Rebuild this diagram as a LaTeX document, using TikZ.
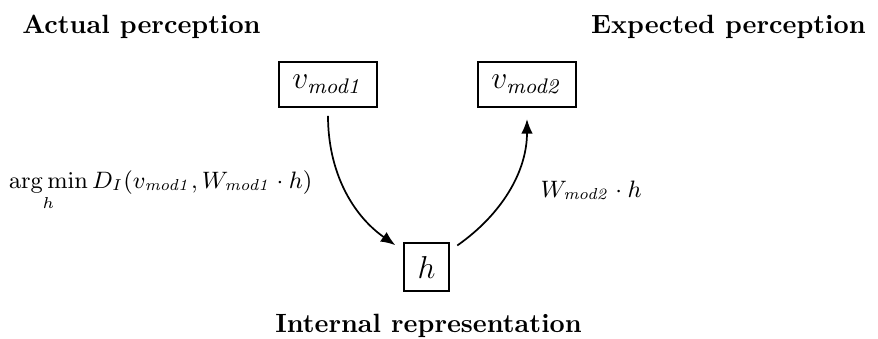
\documentclass[tikz,border=0pt]{standalone}
\usetikzlibrary{arrows.meta}
\begin{document}
\begin{tikzpicture}[x=0.3788pt, y=-0.3788pt,
  box/.style={draw, line width=0.8pt, inner sep=5pt, font=\large},
  title/.style={font=\bfseries},
  lbl/.style={font=\small, inner sep=0pt},
  conn/.style={-{Latex[length=5.5pt,width=4.4pt]}, line width=0.65pt}]
\useasboundingbox (0,0) rectangle (878,338);
\node[title, anchor=base west] (t1) at (13,33) {Actual perception};
\node[title, anchor=base east] (t2) at (875,33) {Expected perception};
\node[title, anchor=base] (t3) at (428.5,332) {Internal representation};
\node[box, minimum height=17pt] (v1) at (328,84.5) {$v_{\mathit{mod1}}$};
\node[box, minimum height=17pt] (v2) at (527,84.5) {$v_{\mathit{mod2}}$};
\node[box] (h) at (426.5,267) {$h$};
\draw[conn, shorten <=3pt, shorten >=3.7pt] (v1) to[out=-90, in=145] (h);
\draw[conn, shorten <=3.5pt, shorten >=4.2pt] (h) to[out=35, in=-90] (v2);
\node[lbl, anchor=base east] (l1) at (313,188) {$\mathop{\mathrm{arg\,min}}\limits_h D_I(v_{\mathit{mod1}}, W_{\mathit{mod1}}\cdot h)$};
\node[lbl, anchor=base west] (l2) at (540,197) {$W_{\mathit{mod2}}\cdot h$};
\end{tikzpicture}
\end{document}
